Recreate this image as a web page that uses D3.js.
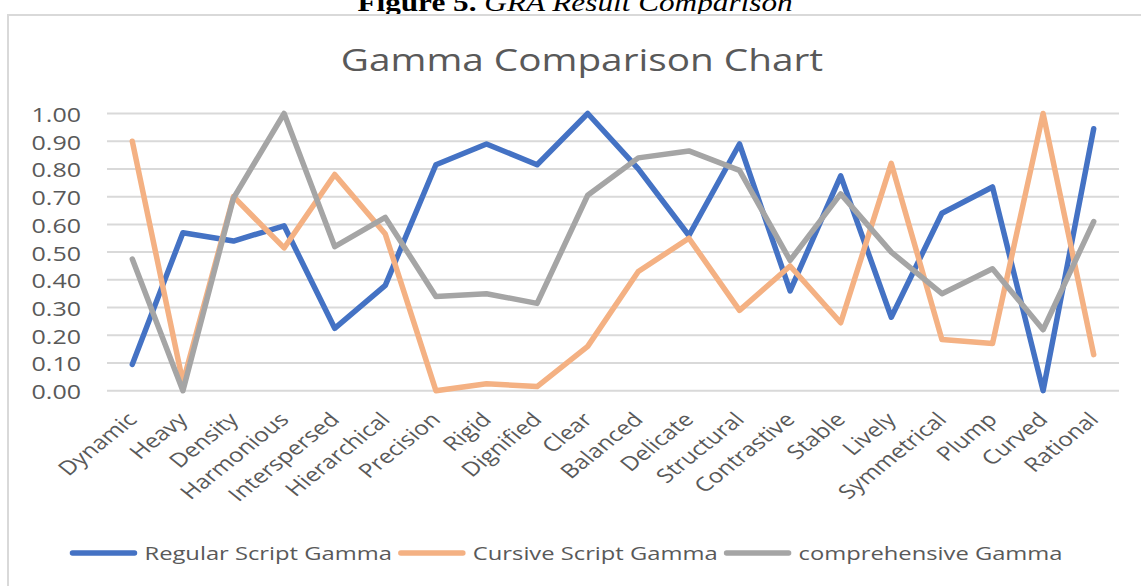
<!DOCTYPE html>
<html>
<head>
<meta charset="utf-8">
<script src="https://cdn.jsdelivr.net/npm/d3@7"></script>
<style>
  html, body { margin: 0; padding: 0; background: #fff; }
  svg { display: block; }
  text { font-family: "Open Sans", "Noto Sans", sans-serif; }
</style>
</head>
<body>
<svg id="chart" width="1141" height="586"></svg>
<script>
// Categories (aesthetic attributes) along the x axis
const categories = ["Dynamic", "Heavy", "Density", "Harmonious", "Interspersed", "Hierarchical",
  "Precision", "Rigid", "Dignified", "Clear", "Balanced", "Delicate", "Structural", "Contrastive",
  "Stable", "Lively", "Symmetrical", "Plump", "Curved", "Rational"];

// Grey relational (gamma) values per series
const regularGamma = [0.095, 0.57, 0.54, 0.595, 0.225, 0.38, 0.815, 0.89, 0.815, 1.00,
  0.80, 0.56, 0.89, 0.36, 0.775, 0.265, 0.64, 0.735, 0.00, 0.945];
const cursiveGamma = [0.90, 0.03, 0.70, 0.515, 0.78, 0.565, 0.00, 0.025, 0.015, 0.16,
  0.43, 0.55, 0.29, 0.45, 0.245, 0.82, 0.185, 0.17, 1.00, 0.13];
const comprehensiveGamma = [0.475, 0.00, 0.695, 1.00, 0.52, 0.625, 0.34, 0.35, 0.315, 0.705,
  0.84, 0.865, 0.795, 0.47, 0.71, 0.50, 0.35, 0.44, 0.22, 0.61];

const seriesNames = ["Regular Script Gamma", "Cursive Script Gamma", "comprehensive Gamma"];
const seriesColors = ["#4472C4", "#F4B183", "#A5A5A5"];
const yTicks = [0, 0.1, 0.2, 0.3, 0.4, 0.5, 0.6, 0.7, 0.8, 0.9, 1.0];

const series = [regularGamma, cursiveGamma, comprehensiveGamma];

const svg = d3.select("#chart");
const SX = 1.25; // horizontal text stretch
const textColor = "#595959";

// Figure caption
const cap = svg.append("text")
  .attr("transform", `translate(575,11) scale(${SX},1)`)
  .attr("text-anchor", "middle")
  .style("font-family", "'Liberation Serif', 'Times New Roman', serif")
  .style("font-size", "25px")
  .attr("fill", "#000");
cap.append("tspan").style("font-weight", "bold").text("Figure 5.");
cap.append("tspan").style("font-style", "italic").text(" GRA Result Comparison");

// Chart frame (left and top edges)
svg.append("path")
  .attr("d", "M8,600 L8,15 L1141,15")
  .attr("fill", "none")
  .attr("stroke", "#D9D9D9")
  .attr("stroke-width", 2);

// Chart title
svg.append("text")
  .attr("transform", `translate(582,71) scale(${SX},1)`)
  .attr("text-anchor", "middle")
  .attr("fill", textColor)
  .style("font-size", "31px")
  .text("Gamma Comparison Chart");

// Scales
const plotLeft = 107, plotRight = 1119;
const x = d3.scaleBand().domain(categories).range([plotLeft, plotRight]);
const y = d3.scaleLinear().domain([0, 1]).range([390.7, 113.5]);
const cx = d => x(d) + x.bandwidth() / 2;

// Horizontal gridlines
svg.append("g").selectAll("line").data(yTicks).join("line")
  .attr("x1", plotLeft).attr("x2", plotRight)
  .attr("y1", d => y(d)).attr("y2", d => y(d))
  .attr("stroke", "#D9D9D9").attr("stroke-width", 2);

// Y axis labels
svg.append("g").selectAll("text").data(yTicks).join("text")
  .attr("transform", d => `translate(81,${y(d) + 8.5}) scale(${SX},1)`)
  .attr("text-anchor", "end")
  .attr("fill", textColor)
  .style("font-size", "20px")
  .text(d => d3.format(".2f")(d));

// X axis category labels, rotated
svg.append("g").selectAll("text").data(categories).join("text")
  .attr("transform", d => `translate(${cx(d)},${416}) scale(${SX},1) rotate(-45)`)
  .attr("text-anchor", "end")
  .attr("dy", "0.35em")
  .attr("fill", textColor)
  .style("font-size", "19.5px")
  .text(d => d);

// Series lines
const line = d3.line()
  .x((d, i) => cx(categories[i]))
  .y(d => y(d));

svg.append("g").selectAll("path").data(series).join("path")
  .attr("d", d => line(d))
  .attr("fill", "none")
  .attr("stroke", (d, i) => seriesColors[i])
  .attr("stroke-width", 5.5)
  .attr("stroke-linejoin", "round")
  .attr("stroke-linecap", "round");

// Legend
const legend = svg.append("g");
const items = legend.selectAll("g").data(seriesNames).join("g");
items.append("line")
  .attr("x1", 0).attr("x2", 62).attr("y1", 0).attr("y2", 0)
  .attr("stroke", (d, i) => seriesColors[i])
  .attr("stroke-width", 5.5)
  .attr("stroke-linecap", "round");
items.append("text")
  .attr("transform", `translate(72,7) scale(${SX},1)`)
  .attr("fill", textColor)
  .style("font-size", "19px")
  .text(d => d);

let pos = 0;
const offsets = [];
items.each(function () {
  offsets.push(pos);
  const w = d3.select(this).select("text").node().getComputedTextLength() * SX;
  pos += 72 + w + 9;
});
const totalW = pos - 9;
const legendStart = 567.5 - totalW / 2;
items.attr("transform", (d, i) => `translate(${legendStart + offsets[i]},553)`);
</script>
</body>
</html>
